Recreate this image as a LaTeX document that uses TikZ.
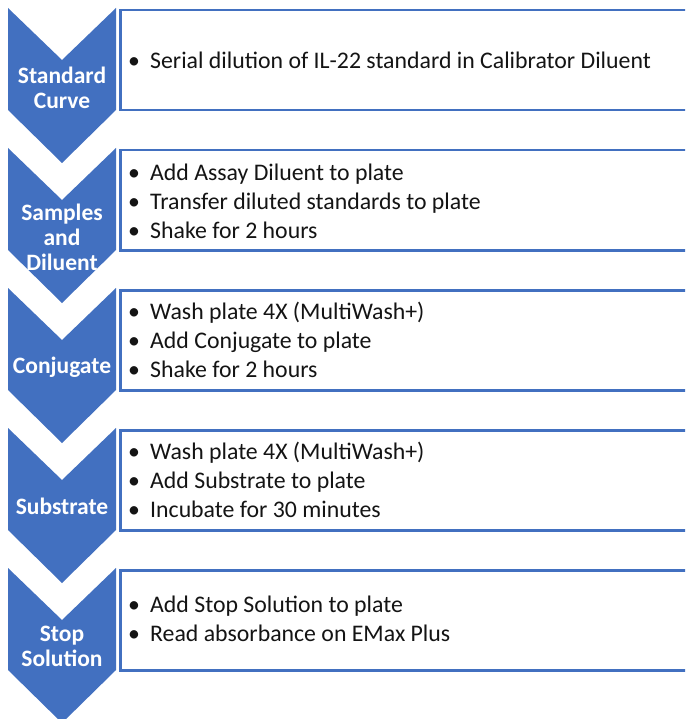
\documentclass[tikz,border=0pt]{standalone}
\usepackage{fontspec}
\setmainfont{Carlito}
\usetikzlibrary{positioning}
\definecolor{stepBlue}{RGB}{66,112,192}
\definecolor{bodyText}{RGB}{20,20,20}
\newcommand{\bul}{\makebox[22pt][l]{\textbullet}}
\tikzset{
    chev/.style={fill=stepBlue},
    chevlbl/.style={text=white,font=\fontsize{23.5}{25}\selectfont\bfseries,align=center,inner sep=0pt},
    panel/.style={rectangle,draw=stepBlue,line width=2.5pt,fill=white,anchor=north west,
        minimum width=800pt,minimum height=100pt,inner sep=0pt},
    steps/.style={text=bodyText,font=\fontsize{23.8}{29}\selectfont,align=left,anchor=west,inner sep=0pt}
}
\begin{document}
\begin{tikzpicture}[x=1pt,y=1pt]
    \useasboundingbox (0,0) rectangle (685,-719);
    \clip (0,0) rectangle (685,-719);

    % panels on the right
    \node[panel] (boxA) at (119,-9)   {};
    \node[panel] (boxB) at (119,-149) {};
    \node[panel] (boxC) at (119,-289) {};
    \node[panel] (boxD) at (119,-429) {};
    \node[panel] (boxE) at (119,-569) {};

    % chevrons on the left
    \fill[chev] (8,-8)   -- (62,-60)  -- (116,-8)   -- (116,-110) -- (62,-163) -- (8,-110) -- cycle;
    \fill[chev] (8,-148) -- (62,-200) -- (116,-148) -- (116,-250) -- (62,-303) -- (8,-250) -- cycle;
    \fill[chev] (8,-288) -- (62,-340) -- (116,-288) -- (116,-390) -- (62,-443) -- (8,-390) -- cycle;
    \fill[chev] (8,-428) -- (62,-480) -- (116,-428) -- (116,-530) -- (62,-583) -- (8,-530) -- cycle;
    \fill[chev] (8,-568) -- (62,-620) -- (116,-568) -- (116,-670) -- (62,-723) -- (8,-670) -- cycle;

    % chevron labels
    \node[chevlbl] (lblA) at (62,-88)  {Standard\\Curve};
    \node[chevlbl] (lblB) at (62,-237) {Samples\\and\\Diluent};
    \node[chevlbl] (lblC) at (62,-367) {Conjugate};
    \node[chevlbl] (lblD) at (62,-506) {Substrate};
    \node[chevlbl] (lblE) at (62,-646) {Stop\\Solution};

    % step texts
    \node[steps] (txtA) at (128,-60)  {\bul Serial dilution of IL-22 standard in Calibrator Diluent};
    \node[steps] (txtB) at (128,-201) {\bul Add Assay Diluent to plate\\\bul Transfer diluted standards to plate\\\bul Shake for 2 hours};
    \node[steps] (txtC) at (128,-340) {\bul Wash plate 4X (MultiWash+)\\\bul Add Conjugate to plate\\\bul Shake for 2 hours};
    \node[steps] (txtD) at (128,-480) {\bul Wash plate 4X (MultiWash+)\\\bul Add Substrate to plate\\\bul Incubate for 30 minutes};
    \node[steps] (txtE) at (128,-619) {\bul Add Stop Solution to plate\\\bul Read absorbance on EMax Plus};
\end{tikzpicture}
\end{document}
